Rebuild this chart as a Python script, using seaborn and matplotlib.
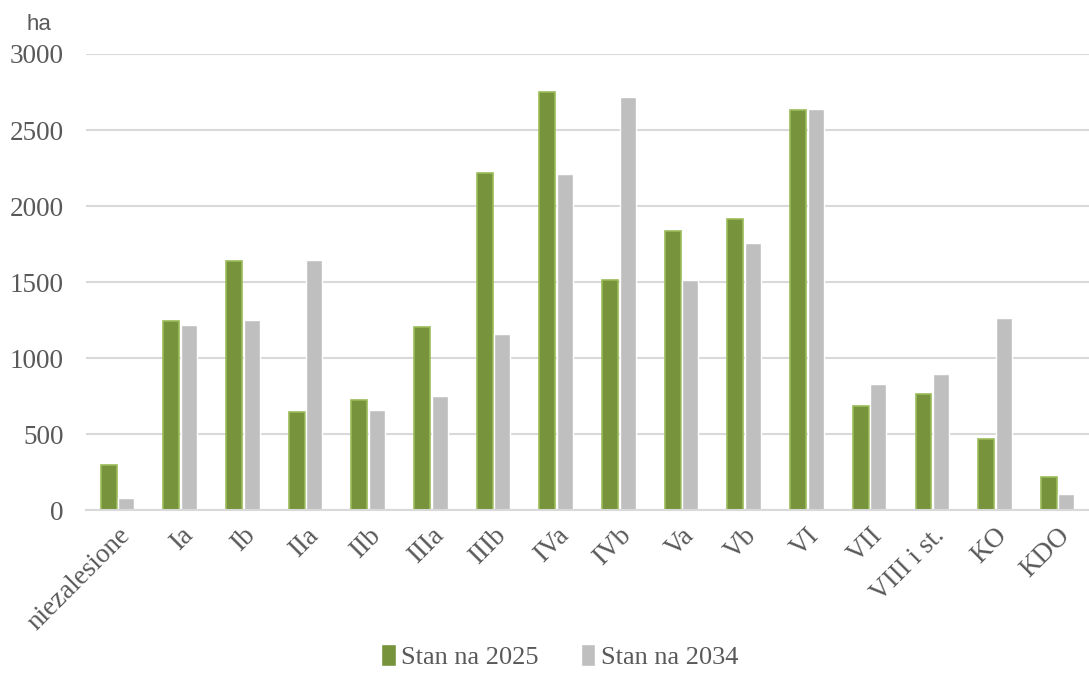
import pandas as pd
import seaborn as sns
import matplotlib.pyplot as plt

# values (ha)
categories = ["niezalesione", "Ia", "Ib", "IIa", "IIb", "IIIa", "IIIb", "IVa",
              "IVb", "Va", "Vb", "VI", "VII", "VIII i st.", "KO", "KDO"]
stan_2025 = [300, 1245, 1640, 650, 725, 1208, 2220, 2750,
             1517, 1837, 1915, 2632, 684, 764, 469, 222]
stan_2034 = [80, 1220, 1252, 1643, 657, 751, 1157, 2210,
             2718, 1517, 1757, 2638, 831, 897, 1266, 109]
series = ["Stan na 2025", "Stan na 2034"]

df = pd.DataFrame({"klasa": categories * 2,
                   "ha": stan_2025 + stan_2034,
                   "seria": [series[0]] * len(categories) + [series[1]] * len(categories)})

sns.set_style("white")
plt.rcParams["font.family"] = ["Liberation Serif", "DejaVu Serif"]

fig = plt.figure(figsize=(10.89, 6.74), dpi=100)
ax = fig.add_axes([0.079, 0.2426, 0.921, 0.6774])

sns.barplot(data=df, x="klasa", y="ha", hue="seria", order=categories,
            palette=["#77933C", "#BFBFBF"], width=0.56, gap=0.09,
            saturation=1, ax=ax, legend=True)

# lighter green outline on the 2025 bars
for patch in ax.containers[0]:
    patch.set_edgecolor("#9BBB59")
    patch.set_linewidth(1.2)

ax.set_ylim(0, 3000)
ax.set_yticks(range(0, 3001, 500))
ax.yaxis.grid(True, color="#D9D9D9", linewidth=1.5)
ax.set_axisbelow(True)
for s in ["top", "right", "left"]:
    ax.spines[s].set_visible(False)
ax.spines["bottom"].set_color("#D9D9D9")
ax.spines["bottom"].set_linewidth(1.5)
ax.tick_params(axis="both", length=0, colors="#595959", labelsize=19.5)
ax.tick_params(axis="x", pad=9)
ax.tick_params(axis="y", pad=16)
plt.setp(ax.get_xticklabels(), rotation=45, ha="right", rotation_mode="anchor")
ax.set_xlabel("")
ax.set_ylabel("")

fig.text(0.036, 0.964, "ha", fontsize=16, color="#595959", ha="center",
         family=["Liberation Sans", "DejaVu Sans"], va="center")

handles, labels = ax.get_legend_handles_labels()
ax.get_legend().remove()
fig.legend(handles, labels, loc="lower center", ncol=2, frameon=False,
           fontsize=19, handlelength=0.55, handleheight=0.9, handletextpad=0.2,
           columnspacing=1.6, bbox_to_anchor=(0.514, -0.028), labelcolor="#595959")

fig.savefig("out.png", dpi=100)
